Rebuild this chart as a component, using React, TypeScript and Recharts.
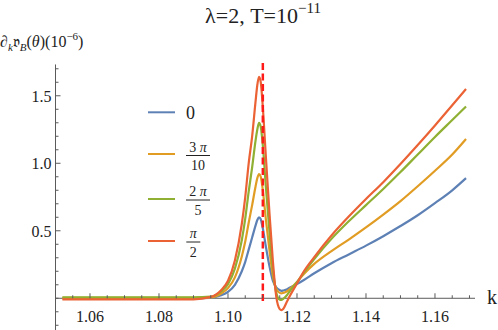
import React from "react";
import { LineChart, Line, XAxis, YAxis, ReferenceLine, Legend } from "recharts";

// ---- data ----
const kValues = [
  1.052, 1.06, 1.07, 1.08, 1.09, 1.095, 1.098, 1.1, 1.102, 1.104, 1.105, 1.106, 1.107, 1.108, 1.1085,
  1.109, 1.1095, 1.11, 1.111, 1.112, 1.113, 1.114, 1.115, 1.1155, 1.116, 1.117, 1.118, 1.12, 1.122,
  1.125, 1.13, 1.135, 1.14, 1.145, 1.15, 1.155, 1.16, 1.165, 1.169,
];
const blue0 = [
  0, 0, 0, 0, 0, 0.003, 0.022, 0.048, 0.1, 0.2, 0.27, 0.36, 0.45, 0.54, 0.58,
  0.6, 0.585, 0.53, 0.38, 0.24, 0.13, 0.08, 0.06, 0.055, 0.058, 0.065, 0.08, 0.105, 0.135,
  0.185, 0.26, 0.325, 0.39, 0.46, 0.535, 0.615, 0.705, 0.8, 0.89,
];
const orange3pi10 = [
  0.003, 0.003, 0.003, 0.003, 0.003, 0.006, 0.035, 0.075, 0.155, 0.31, 0.42, 0.56, 0.69, 0.83, 0.89,
  0.92, 0.9, 0.82, 0.58, 0.36, 0.17, 0.07, 0.04, 0.037, 0.04, 0.05, 0.07, 0.12, 0.18,
  0.255, 0.35, 0.435, 0.525, 0.62, 0.72, 0.83, 0.945, 1.065, 1.18,
];
const green2pi5 = [
  0.006, 0.006, 0.006, 0.006, 0.006, 0.012, 0.05, 0.105, 0.22, 0.43, 0.59, 0.79, 0.97, 1.17, 1.25,
  1.3, 1.27, 1.16, 0.82, 0.5, 0.22, 0.04, -0.01, -0.012, -0.005, 0.02, 0.055, 0.12, 0.19,
  0.29, 0.44, 0.57, 0.69, 0.81, 0.935, 1.065, 1.195, 1.32, 1.42,
];
const redPi2 = [
  -0.008, -0.008, -0.008, -0.008, -0.008, 0.01, 0.06, 0.13, 0.28, 0.55, 0.75, 1.0, 1.2, 1.46, 1.58,
  1.64, 1.6, 1.45, 1.04, 0.64, 0.28, 0.01, -0.08, -0.088, -0.08, -0.03, 0.02, 0.11, 0.2,
  0.305, 0.465, 0.605, 0.735, 0.86, 0.995, 1.135, 1.28, 1.43, 1.55,
];
const seriesNames = ["0", "3π/10", "2π/5", "π/2"];
const xTicks = [
  1.055, 1.06, 1.065, 1.07, 1.075, 1.08, 1.085, 1.09, 1.095, 1.1, 1.105, 1.11, 1.115, 1.12, 1.125,
  1.13, 1.135, 1.14, 1.145, 1.15, 1.155, 1.16, 1.165, 1.17,
];
const xLabelTicks = [1.06, 1.08, 1.1, 1.12, 1.14, 1.16];
const yTicks = [-0.2, -0.1, 0, 0.1, 0.2, 0.3, 0.4, 0.5, 0.6, 0.7, 0.8, 0.9, 1.0, 1.1, 1.2, 1.3, 1.4, 1.5, 1.6, 1.7];
const yLabelTicks = [0.5, 1.0, 1.5];
const kStar = 1.1101;

const rows = kValues.map((k, i) => ({
  k,
  b0: blue0[i],
  b3: orange3pi10[i],
  b2: green2pi5[i],
  b5: redPi2[i],
}));

// ---- layout ----
const W = 498;
const H = 330;
const TOP = 60;
const AXIS_X = 55.5;
const RIGHT = 23;
const XMIN = 1.05;
const XMAX = 1.1716;
const YMIN = -0.235;
const YMAX = 1.765;
const Y0 = TOP + ((H - TOP) * YMAX) / (YMAX - YMIN);
const AXIS = "#5a5a5a";
const SERIF = "'Liberation Serif', 'DejaVu Serif', 'Times New Roman', serif";
const COLORS = ["#5E81B5", "#E19C24", "#8FB032", "#EB6235"];
const serifStyle = { fontFamily: SERIF };

const near = (a: number, arr: number[]) => arr.some((b) => Math.abs(a - b) < 1e-6);

const XTick = (props: any) => {
  const { x, payload } = props;
  const v = payload.value as number;
  const major = near(v, xLabelTicks);
  return (
    <g>
      <line x1={x} x2={x} y1={Y0} y2={Y0 - (major ? 5 : 3)} stroke={AXIS} strokeWidth={1} />
      {major && (
        <text x={x} y={Y0 + 24} textAnchor="middle" style={serifStyle} fontSize={16} fill="#222">
          {v.toFixed(2)}
        </text>
      )}
    </g>
  );
};

const YTick = (props: any) => {
  const { y, payload } = props;
  const v = payload.value as number;
  const major = near(v, yLabelTicks);
  return (
    <g>
      <line x1={AXIS_X} x2={AXIS_X + (major ? 5 : 3)} y1={y} y2={y} stroke={AXIS} strokeWidth={1} />
      {major && (
        <text x={AXIS_X - 4} y={y + 6} textAnchor="end" style={serifStyle} fontSize={16} fill="#222">
          {v.toFixed(1)}
        </text>
      )}
    </g>
  );
};

const Frac = ({ cx, top, num, den, barW }: any) => (
  <g fill="#222">
    <text x={cx} y={top} textAnchor="middle" fontSize={14} style={serifStyle}>
      {num}
    </text>
    <line x1={cx - barW / 2} x2={cx + barW / 2} y1={top + 4} y2={top + 4} stroke="#222" strokeWidth={1} />
    <text x={cx} y={top + 18.5} textAnchor="middle" fontSize={14} style={serifStyle}>
      {den}
    </text>
  </g>
);

const renderLegend = (props: any) => {
  const payload = props.payload || [];
  const lineYs = [17.3, 59, 104, 146];
  const colorOf = (name: string, i: number) => {
    const p = payload.find((q: any) => q.value === name);
    return p ? p.color : COLORS[i];
  };
  return (
    <svg width={100} height={170} style={{ overflow: "visible" }}>
      {seriesNames.map((n, i) => (
        <line key={n} x1={8} x2={35} y1={lineYs[i]} y2={lineYs[i]} stroke={colorOf(n, i)} strokeWidth={2} />
      ))}
      <text x={46} y={24.3} style={serifStyle} fontSize={18} fill="#222">
        0
      </text>
      <Frac cx={58} top={56.5} barW={24} num={<>3 <tspan fontStyle="italic">π</tspan></>} den="10" />
      <Frac cx={58} top={101} barW={24} num={<>2 <tspan fontStyle="italic">π</tspan></>} den="5" />
      <Frac cx={53.3} top={143} barW={14} num={<tspan fontStyle="italic">π</tspan>} den="2" />
    </svg>
  );
};

export default function App() {
  return (
    <div style={{ position: "absolute", left: 0, top: 0, width: W, height: H, background: "#fff" }}>
      <LineChart width={W} height={H} data={rows} margin={{ top: TOP, right: RIGHT, bottom: -30, left: 0 }}>
        <XAxis
          type="number"
          dataKey="k"
          domain={[XMIN, XMAX]}
          ticks={xTicks}
          axisLine={false}
          tickLine={false}
          tick={<XTick />}
          height={30}
          interval={0}
        />
        <YAxis
          type="number"
          domain={[YMIN, YMAX]}
          ticks={yTicks}
          axisLine={false}
          tickLine={false}
          tick={<YTick />}
          width={AXIS_X}
          interval={0}
        />
        <ReferenceLine y={0} stroke={AXIS} strokeWidth={1}
          label={(p: any) => {
            const vb = p.viewBox || {};
            return (
              <text x={(vb.x || 0) + (vb.width || 0) + 12} y={(vb.y || 0) + 6} style={serifStyle} fontSize={20} fill="#222">
                k
              </text>
            );
          }}
        />
        <ReferenceLine
          segment={[
            { x: XMIN, y: YMIN },
            { x: XMIN, y: 1.732 },
          ]}
          stroke={AXIS}
          strokeWidth={1}
          ifOverflow="visible"
        />
        <Line type="monotone" dataKey="b0" name={seriesNames[0]} stroke={COLORS[0]} strokeWidth={2.2} dot={false} isAnimationActive={false} />
        <Line type="monotone" dataKey="b3" name={seriesNames[1]} stroke={COLORS[1]} strokeWidth={2.2} dot={false} isAnimationActive={false} />
        <Line type="monotone" dataKey="b2" name={seriesNames[2]} stroke={COLORS[2]} strokeWidth={2.2} dot={false} isAnimationActive={false} />
        <Line type="monotone" dataKey="b5" name={seriesNames[3]} stroke={COLORS[3]} strokeWidth={2.2} dot={false} isAnimationActive={false} />
        <ReferenceLine
          segment={[
            { x: kStar, y: -0.02 },
            { x: kStar, y: YMAX },
          ]}
          stroke="#ff1a1a"
          strokeWidth={2.5}
          strokeDasharray="7 3.5"
          ifOverflow="visible"
        />
        <Legend
          layout="vertical"
          align="center"
          verticalAlign="middle"
          content={renderLegend}
          wrapperStyle={{ position: "absolute", left: 140, top: 95, width: 100, height: 170 }}
        />
      </LineChart>
      <svg width={W} height={H} style={{ position: "absolute", left: 0, top: 0, pointerEvents: "none" }}>
        <text x={263} y={23} textAnchor="middle" style={serifStyle} fontSize={22} fill="#222">
          λ=2, T=10
          <tspan fontSize={15} dy={-10}>−11</tspan>
        </text>
        <text x={0} y={47} style={serifStyle} fontSize={16} fill="#222">
          ∂<tspan fontSize={11} fontStyle="italic" dy={4}>k</tspan>
          <tspan dy={-4}>𝔳</tspan>
          <tspan fontSize={11} fontStyle="italic" dy={4}>B</tspan>
          <tspan dy={-4}>(</tspan>
          <tspan fontStyle="italic">θ</tspan>
          <tspan>)(10</tspan>
          <tspan fontSize={11} dy={-7}>−6</tspan>
          <tspan dy={7}>)</tspan>
        </text>
      </svg>
    </div>
  );
}
